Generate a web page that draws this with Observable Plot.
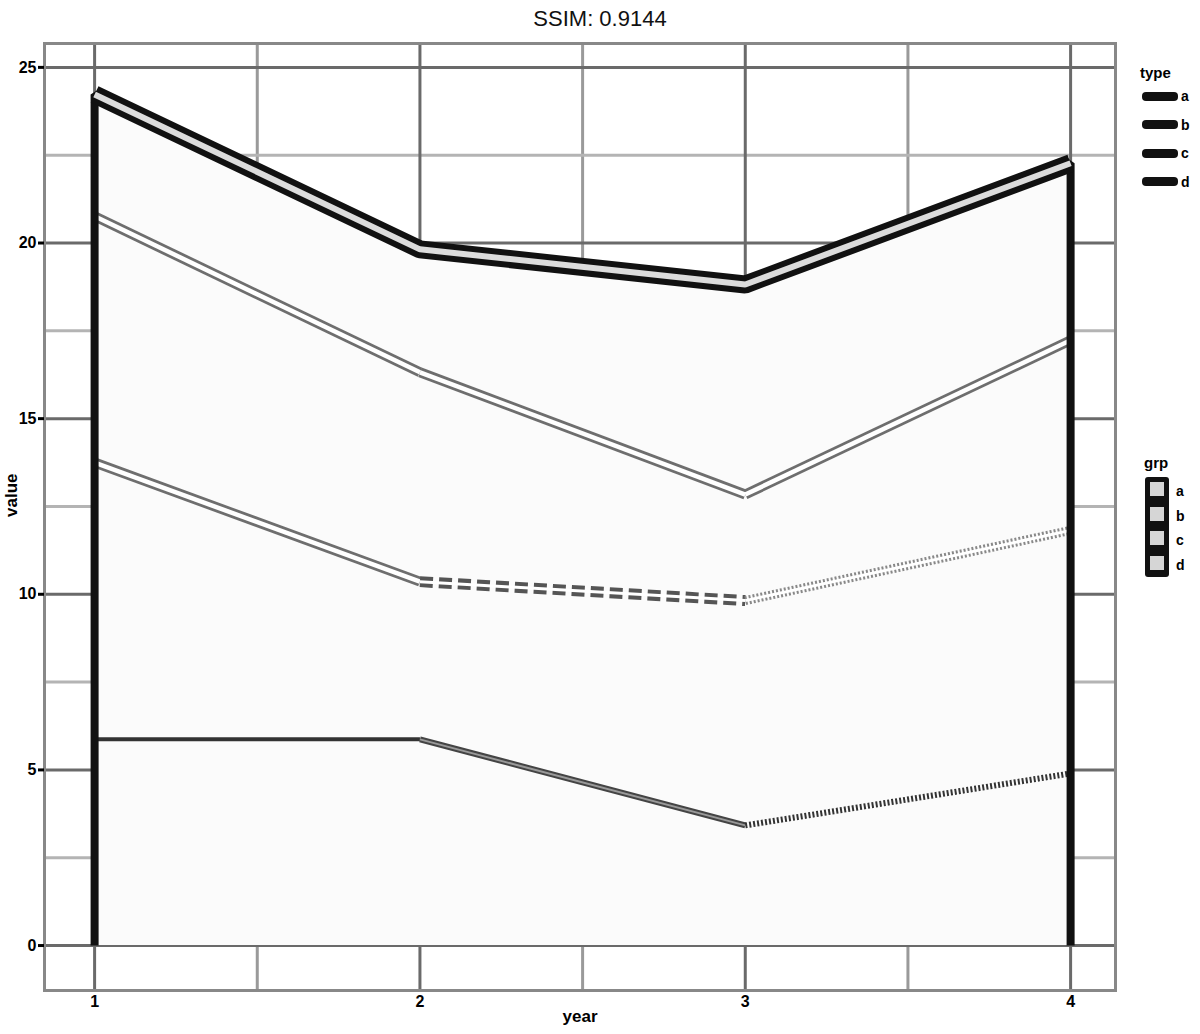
<!DOCTYPE html>
<html><head><meta charset="utf-8">
<script src="https://cdn.jsdelivr.net/npm/d3@7"></script>
<script src="https://cdn.jsdelivr.net/npm/@observablehq/plot@0.6"></script>
<style>
body{margin:0;background:#fff;font-family:"Liberation Sans",Arial,sans-serif;}
#wrap{position:relative;width:1200px;height:1034px;overflow:hidden;}
#title{position:absolute;left:0;top:0;width:1200px;text-align:center;font-size:22px;line-height:38px;color:#111;}
#chart{position:absolute;left:0;top:34px;}
.legtitle{position:absolute;font-size:15px;font-weight:bold;color:#000;}
.row{position:absolute;display:flex;align-items:center;font-size:14px;font-weight:bold;color:#000;}
.bar{display:inline-block;width:36px;height:9px;background:#111;border-radius:4px;margin-right:3px;}
.sq{position:absolute;width:14px;height:14px;background:#d6d6d6;}
</style></head>
<body>
<div id="wrap">
  <div id="title">SSIM: 0.9144</div>
  <div id="chart"></div>
</div>
<script>
// ---- data ----
const xValues = [1, 2, 3, 4];
const xLabels = ["1", "2", "3", "4"];
const yTicks = [0, 5, 10, 15, 20, 25];
const seriesNames = ["a", "b", "c", "d"];
const seriesA = [5.87, 5.87, 3.42, 4.90];
const seriesB = [7.88, 4.49, 6.40, 6.92];
const seriesC = [7.01, 5.96, 3.02, 5.41];
const seriesD = [3.47, 3.50, 5.98, 5.04];
const legendLineTitle = "type";
const legendFillTitle = "grp";
const xTitle = "year";
const yTitle = "value";

// ---- build stacked table ----
const seriesValues = [seriesA, seriesB, seriesC, seriesD];
const rows = [];
const base = xValues.map(() => 0);
seriesValues.forEach((vals, k) => {
  xValues.forEach((x, i) => {
    rows.push({series: seriesNames[k], k, x, y0: base[i], y1: base[i] + vals[i]});
  });
  vals.forEach((v, i) => base[i] += v);
});
const segs = [];
seriesNames.forEach((s, k) => {
  const r = rows.filter(d => d.k === k);
  for (let i = 0; i < r.length - 1; i++) {
    segs.push({k, i, xa: r[i].x, ya: r[i].y1, xb: r[i + 1].x, yb: r[i + 1].y1});
  }
});
const topRows = rows.filter(d => d.k === 3);
const outline = [{x: xValues[0], y: 0}, ...topRows.map(d => ({x: d.x, y: d.y1})), {x: xValues[xValues.length - 1], y: 0}];

const sel = (k, is) => segs.filter(d => d.k === k && is.includes(d.i));
const link = (data, o) => Plot.link(data, {x1: "xa", y1: "ya", x2: "xb", y2: "yb", strokeLinecap: "butt", ...o});

const chart = Plot.plot({
  width: 1200, height: 1000,
  marginLeft: 44, marginRight: 85, marginTop: 9, marginBottom: 44,
  style: {background: "#fff", fontFamily: "Liberation Sans, Arial, sans-serif"},
  x: {type: "linear", domain: [0.846, 4.138]},
  y: {domain: [-1.28, 25.68]},
  marks: [
    Plot.gridX([1.5, 2.5, 3.5], {stroke: "#9a9a9a", strokeWidth: 3, strokeOpacity: 1}),
    Plot.gridY([2.5, 7.5, 12.5, 17.5, 22.5], {stroke: "#b4b4b4", strokeWidth: 3, strokeOpacity: 1}),
    Plot.gridX(xValues, {stroke: "#6a6a6a", strokeWidth: 3, strokeOpacity: 1}),
    Plot.gridY(yTicks, {stroke: "#6a6a6a", strokeWidth: 3, strokeOpacity: 1}),
    Plot.frame({stroke: "#888", strokeWidth: 3}),
    Plot.areaY(rows, {x: "x", y1: "y0", y2: "y1", z: "series", fill: "#fbfbfb"}),
    // boundary C: double gray
    link(sel(2, [0, 1, 2]), {stroke: "#6e6e6e", strokeWidth: 10}),
    link(sel(2, [0, 1, 2]), {stroke: "#fff", strokeWidth: 4.5}),
    // boundary B
    link(sel(1, [0]), {stroke: "#6e6e6e", strokeWidth: 10}),
    link(sel(1, [0]), {stroke: "#fff", strokeWidth: 4.5}),
    link(sel(1, [1]), {stroke: "#555", strokeWidth: 11, strokeDasharray: "13,6"}),
    link(sel(1, [1]), {stroke: "#fff", strokeWidth: 3}),
    link(sel(1, [2]), {stroke: "#888", strokeWidth: 9, strokeDasharray: "2,2"}),
    link(sel(1, [2]), {stroke: "#fff", strokeWidth: 3}),
    // boundary A
    link(sel(0, [0]), {stroke: "#333", strokeWidth: 4}),
    link(sel(0, [1]), {stroke: "#444", strokeWidth: 6}),
    link(sel(0, [1]), {stroke: "#999", strokeWidth: 2}),
    link(sel(0, [2]), {stroke: "#333", strokeWidth: 6, strokeDasharray: "2,2"}),
    // outer outline
    Plot.line(outline, {x: "x", y: "y", stroke: "#111", strokeWidth: 8, strokeLinejoin: "miter", strokeLinecap: "butt"}),
    Plot.line(topRows, {x: "x", y: "y1", stroke: "#111", strokeWidth: 18, strokeLinejoin: "miter", strokeLinecap: "butt"}),
    Plot.line(topRows, {x: "x", y: "y1", stroke: "#dcdcdc", strokeWidth: 6, strokeLinejoin: "miter", strokeLinecap: "butt"}),
    Plot.axisX(xValues, {tickFormat: (d, i) => xLabels[i], tickSize: 4, tickPadding: 1, fontSize: 16, fontWeight: "bold", stroke: null, fill: "#000", label: null}),
    Plot.axisY(yTicks, {tickSize: 6, tickPadding: 2, fontSize: 16, fontWeight: "bold", fill: "#000", label: null, strokeWidth: 3}),
    Plot.text([xTitle], {frameAnchor: "bottom", dy: 31, fontSize: 17, fontWeight: "bold", fill: "#000"}),
    Plot.text([yTitle], {frameAnchor: "left", dx: -33, rotate: -90, fontSize: 17, fontWeight: "bold", fill: "#000"})
  ]
});
document.getElementById("chart").appendChild(chart);

// ---- legends ----
const wrap = document.getElementById("wrap");
function el(cls, style, text) {
  const d = document.createElement("div");
  d.className = cls; Object.assign(d.style, style);
  if (text != null) d.textContent = text;
  wrap.appendChild(d); return d;
}
el("legtitle", {left: "1140px", top: "64px"}, legendLineTitle);
seriesNames.forEach((s, i) => {
  const r = el("row", {left: "1142px", top: (87 + i * 28.5) + "px", height: "18px"});
  const b = document.createElement("span"); b.className = "bar"; r.appendChild(b);
  r.appendChild(document.createTextNode(s));
});
el("legtitle", {left: "1144px", top: "454px"}, legendFillTitle);
el("", {position: "absolute", left: "1145px", top: "477px", width: "24px", height: "100px", background: "#111", borderRadius: "3px"});
seriesNames.forEach((s, i) => {
  el("sq", {left: "1150px", top: (482 + i * 24.5) + "px"});
  el("row", {left: "1176px", top: (483 + i * 24.5) + "px", height: "16px"}, s);
});
</script>
</body></html>
